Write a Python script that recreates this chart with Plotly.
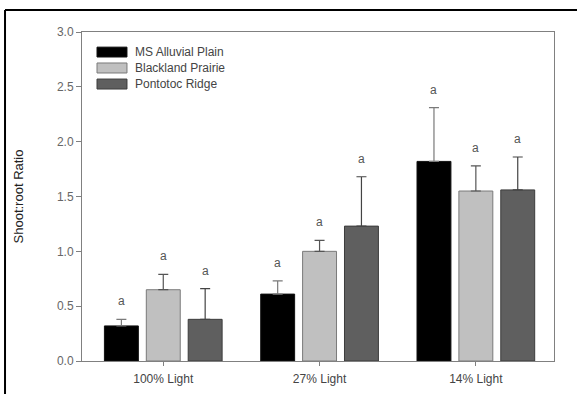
import plotly.graph_objects as go

categories = ["100% Light", "27% Light", "14% Light"]
series_names = ["MS Alluvial Plain", "Blackland Prairie", "Pontotoc Ridge"]
ms_alluvial = [0.32, 0.61, 1.82]
ms_alluvial_err = [0.06, 0.12, 0.49]
blackland = [0.65, 1.00, 1.55]
blackland_err = [0.14, 0.10, 0.23]
pontotoc = [0.38, 1.23, 1.56]
pontotoc_err = [0.28, 0.45, 0.30]
letters = [["a", "a", "a"], ["a", "a", "a"], ["a", "a", "a"]]

values = [ms_alluvial, blackland, pontotoc]
errors = [ms_alluvial_err, blackland_err, pontotoc_err]
fills = ["#000000", "#c0c0c0", "#5f5f5f"]
outlines = ["#111111", "#7a7a7a", "#3c3c3c"]
errcolors = ["#7a7a7a", "#555555", "#444444"]

FONT = "Liberation Sans, Arial, sans-serif"
bargap = 0.196
xpos = list(range(len(categories)))

fig = go.Figure()
for i in range(3):
    fig.add_trace(go.Bar(
        x=xpos, y=values[i], name=series_names[i],
        marker=dict(color=fills[i], line=dict(color=outlines[i], width=1)),
        error_y=dict(type="data", array=errors[i], arrayminus=[0]*3, symmetric=False,
                     color=errcolors[i], thickness=1.2, width=5),
        showlegend=False,
    ))

slot = (1 - bargap) / 3
annotations = []
for i in range(3):
    for j in range(3):
        annotations.append(dict(
            x=xpos[j] + (i - 1) * slot, y=values[i][j] + errors[i][j],
            xref="x", yref="y", text=letters[i][j], showarrow=False,
            yanchor="bottom", yshift=9,
            font=dict(family=FONT, size=12, color="#555555")))

# manual legend
shapes = []
rows = [(0.924, 0.954), (0.8754, 0.9058), (0.8267, 0.857)]
for i in range(3):
    y0, y1 = rows[i]
    shapes.append(dict(type="rect", xref="paper", yref="paper",
                       x0=0.0318, x1=0.0953, y0=y0, y1=y1,
                       fillcolor=fills[i], line=dict(color=outlines[i], width=1)))
    annotations.append(dict(x=0.108, y=(y0 + y1) / 2, xref="paper", yref="paper",
                            text=series_names[i], showarrow=False,
                            xanchor="left", yanchor="middle",
                            font=dict(family=FONT, size=12, color="#444444")))

# outer black frame (top and left)
shapes.append(dict(type="line", xref="paper", yref="paper",
                   x0=-0.1631, x1=1.2, y0=1.0669, y1=1.0669,
                   line=dict(color="#000000", width=2)))
shapes.append(dict(type="line", xref="paper", yref="paper",
                   x0=-0.1631, x1=-0.1631, y0=-0.2, y1=1.0669,
                   line=dict(color="#000000", width=2)))

fig.update_layout(
    width=577, height=394,
    margin=dict(l=82, r=23, t=32, b=33),
    paper_bgcolor="white", plot_bgcolor="white",
    barmode="group", bargap=bargap, bargroupgap=0.19,
    annotations=annotations, shapes=shapes,
    font=dict(family=FONT, size=11, color="#555555"),
    xaxis=dict(range=[-0.52, 2.50], tickvals=xpos, ticktext=categories,
               showline=True, linecolor="#808080", linewidth=1, mirror=True,
               ticks="outside", ticklen=4, tickcolor="#808080",
               ticklabelstandoff=3, automargin=False,
               showgrid=False, zeroline=False,
               tickfont=dict(family=FONT, size=12, color="#444444")),
    yaxis=dict(range=[0, 3.0], tickvals=[0, 0.5, 1.0, 1.5, 2.0, 2.5, 3.0],
               ticktext=["0.0", "0.5", "1.0", "1.5", "2.0", "2.5", "3.0"],
               showline=True, linecolor="#808080", linewidth=1, mirror=True,
               ticks="outside", ticklen=5, tickcolor="#808080",
               showgrid=False, zeroline=False, automargin=False,
               tickfont=dict(family=FONT, size=12, color="#666666"),
               title=dict(text="Shoot:root Ratio", standoff=30,
                          font=dict(family=FONT, size=13, color="#222222"))),
)

fig.write_html("out.html")
